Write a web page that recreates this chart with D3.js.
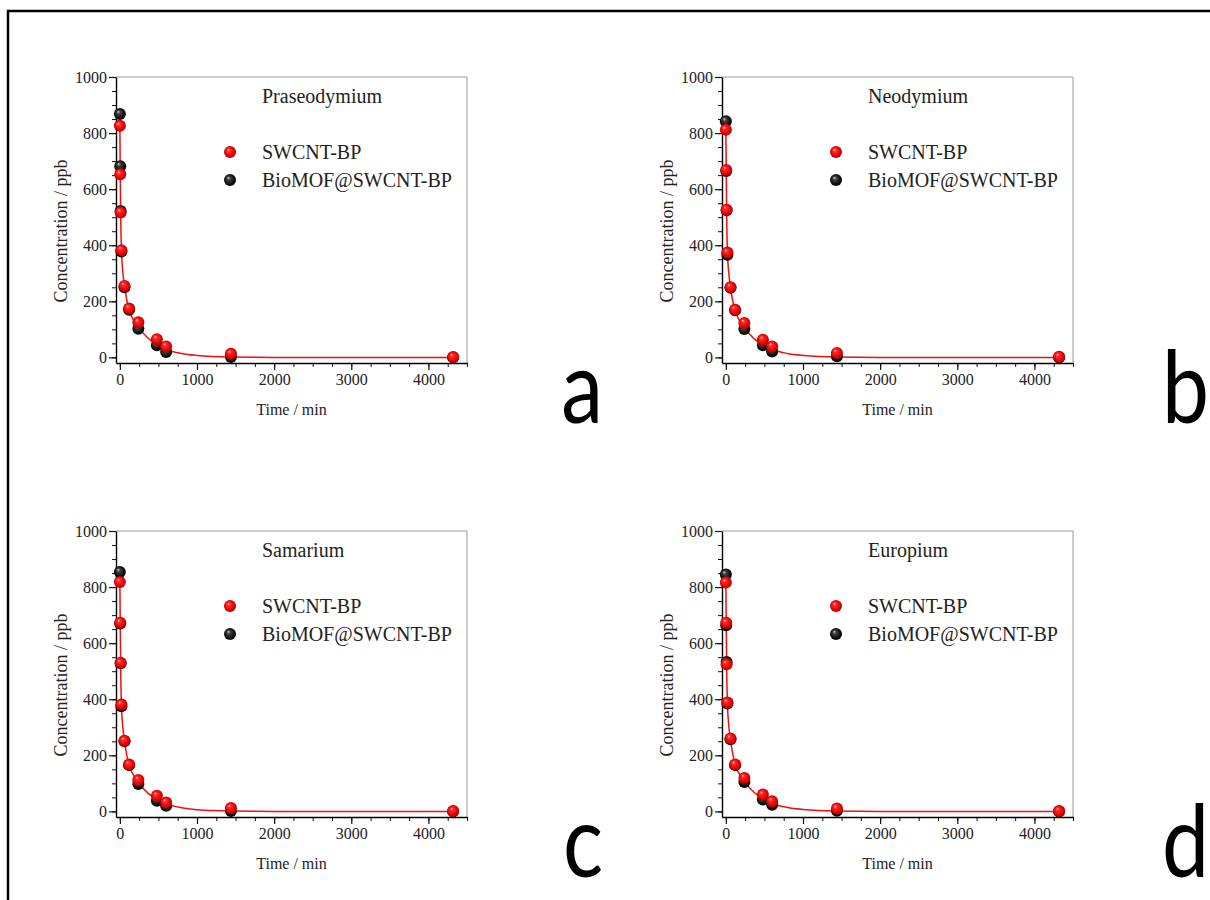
<!DOCTYPE html>
<head>
<meta charset="utf-8">
<script src="https://d3js.org/d3.v7.min.js"></script>
<style>
  body { margin: 0; background: #fff; }
  svg text { font-family: "Liberation Serif", "Times New Roman", serif; fill: #222; }
  svg .tick text { font-family: "Liberation Serif", serif !important; font-size: 16px !important; fill: #222; }
  svg text.letter { font-family: Lato, "Open Sans", sans-serif; fill: #000; }
</style>
</head>
<body>
  <svg id="figure" width="1210" height="900"></svg>
  <script>
    // sampling times (min) shared by both materials
    const times = [0, 5, 10, 20, 60, 120, 240, 480, 600, 1440, 4320];

    const elements = ["Praseodymium", "Neodymium", "Samarium", "Europium"];
    const panelLetters = ["a", "b", "c", "d"];
    const seriesNames = ["SWCNT-BP", "BioMOF@SWCNT-BP"];

    // concentration / ppb, one row per element
    const swcntValues = [
      [826, 653, 517, 382, 255, 174, 125, 65, 39, 13, 1],
      [812, 668, 527, 374, 250, 170, 123, 63, 39, 16, 2],
      [818, 673, 530, 381, 252, 167, 112, 56, 32, 12, 1],
      [816, 673, 525, 388, 260, 167, 119, 60, 36, 10, 1]
    ];
    const biomofValues = [
      [868, 682, 522, 378, 250, 170, 102, 43, 19, 1, 0],
      [842, 665, 525, 366, 248, 168, 101, 43, 21, 4, 0],
      [854, 670, 528, 375, 250, 165, 98, 38, 20, 1, 0],
      [845, 664, 533, 385, 257, 165, 105, 42, 24, 2, 0]
    ];

    // red fitted curve
    const fitTimes = [0, 5, 10, 20, 40, 60, 90, 120, 180, 240, 360, 480, 600, 800, 1000, 1200, 1440, 2000, 3000, 4340];
    const fitValues = [
      [835, 660, 525, 390, 300, 255, 205, 168, 132, 108, 70, 46, 28, 14, 7, 3, 1, 0, 0, 0],
      [820, 665, 525, 380, 295, 250, 200, 166, 130, 106, 68, 45, 28, 14, 7, 3, 1, 0, 0, 0],
      [825, 668, 528, 382, 296, 252, 200, 165, 128, 104, 66, 43, 27, 13, 6, 3, 1, 0, 0, 0],
      [822, 668, 528, 388, 300, 256, 204, 167, 131, 107, 69, 46, 28, 14, 7, 3, 1, 0, 0, 0]
    ];

    const xMajor = [0, 1000, 2000, 3000, 4000];
    const yMajor = [0, 200, 400, 600, 800, 1000];

    const svg = d3.select("#figure");
    const w = 351, h = 286;
    const origins = [[116, 77], [722, 77], [116, 531], [722, 531]];

    // outer frame
    svg.append("rect")
      .attr("x", 8).attr("y", 11)
      .attr("width", 1220).attr("height", 900)
      .attr("fill", "none").attr("stroke", "#000").attr("stroke-width", 2.5);

    // shiny ball gradients
    const defs = svg.append("defs");
    function ball(id, stops) {
      const g = defs.append("radialGradient").attr("id", id)
        .attr("cx", "50%").attr("cy", "50%").attr("r", "55%")
        .attr("fx", "35%").attr("fy", "30%");
      stops.forEach(s => g.append("stop").attr("offset", s[0]).attr("stop-color", s[1]));
    }
    ball("redBall", [["0%", "#ffd0d0"], ["22%", "#ff3030"], ["70%", "#e80000"], ["100%", "#a00000"]]);
    ball("blackBall", [["0%", "#d8d8d8"], ["25%", "#444"], ["70%", "#111"], ["100%", "#000"]]);

    const x = d3.scaleLinear().domain([-50, 4500]).range([0, w]);
    const y = d3.scaleLinear().domain([-20, 1000]).range([h, 0]);
    const fmt = d3.format("d");

    elements.forEach((name, i) => {
      const g = svg.append("g")
        .attr("transform", `translate(${origins[i][0]},${origins[i][1]})`);

      // top / right frame
      g.append("path")
        .attr("d", `M0,0H${w}V${h}`)
        .attr("fill", "none").attr("stroke", "#999").attr("stroke-width", 1);

      // minor ticks
      g.append("g").attr("transform", `translate(0,${h})`)
        .call(d3.axisBottom(x).tickValues(d3.range(0, 4501, 250)).tickSize(4).tickFormat(""))
        .call(a => a.select(".domain").remove());
      g.append("g")
        .call(d3.axisLeft(y).tickValues(d3.range(0, 1001, 50)).tickSize(4).tickFormat(""))
        .call(a => a.select(".domain").remove());

      // major ticks + labels
      const xa = g.append("g").attr("transform", `translate(0,${h})`)
        .call(d3.axisBottom(x).tickValues(xMajor).tickFormat(fmt).tickSize(7).tickPadding(4).tickSizeOuter(0));
      const ya = g.append("g")
        .call(d3.axisLeft(y).tickValues(yMajor).tickFormat(fmt).tickSize(7).tickPadding(2).tickSizeOuter(0));
      [xa, ya].forEach(ax => {
        ax.attr("font-family", null).attr("font-size", null);
        ax.select(".domain").attr("stroke-width", 1.4);
        ax.selectAll("line").attr("stroke-width", 1.2);
      });
      g.selectAll(".tick line").attr("stroke", "#111");

      // axis titles
      g.append("text")
        .attr("x", w / 2).attr("y", h + 52)
        .attr("text-anchor", "middle").style("font-size", "16px")
        .text("Time / min");
      g.append("text")
        .attr("transform", `translate(-49,${154}) rotate(-90)`)
        .attr("text-anchor", "middle").style("font-size", "18px")
        .text("Concentration / ppb");

      // fitted curve
      const line = d3.line().x(d => x(d[0])).y(d => y(d[1])).curve(d3.curveMonotoneX);
      g.append("path")
        .datum(fitTimes.map((t, k) => [t, fitValues[i][k]]))
        .attr("d", line)
        .attr("fill", "none").attr("stroke", "#f01010").attr("stroke-width", 1.5);

      // points
      g.append("g").selectAll("circle")
        .data(times.map((t, k) => [t, biomofValues[i][k]]))
        .join("circle")
        .attr("cx", d => x(d[0])).attr("cy", d => y(d[1])).attr("r", 6)
        .attr("fill", "url(#blackBall)");
      g.append("g").selectAll("circle")
        .data(times.map((t, k) => [t, swcntValues[i][k]]))
        .join("circle")
        .attr("cx", d => x(d[0])).attr("cy", d => y(d[1])).attr("r", 6)
        .attr("fill", "url(#redBall)");

      // title + legend
      g.append("text").attr("x", 146).attr("y", 26)
        .style("font-size", "20px").text(name);
      seriesNames.forEach((s, k) => {
        g.append("circle").attr("cx", 114).attr("cy", 75 + k * 28).attr("r", 6)
          .attr("fill", k === 0 ? "url(#redBall)" : "url(#blackBall)");
        g.append("text").attr("x", 146).attr("y", 82 + k * 28)
          .style("font-size", "20px").text(s);
      });

      // panel letter
      g.append("text").attr("class", "letter")
        .attr("transform", "translate(487,346) scale(0.84,1)")
        .attr("text-anchor", "end")
        .style("font-size", "100px")
        .text(panelLetters[i]);
    });
  </script>
</body>
